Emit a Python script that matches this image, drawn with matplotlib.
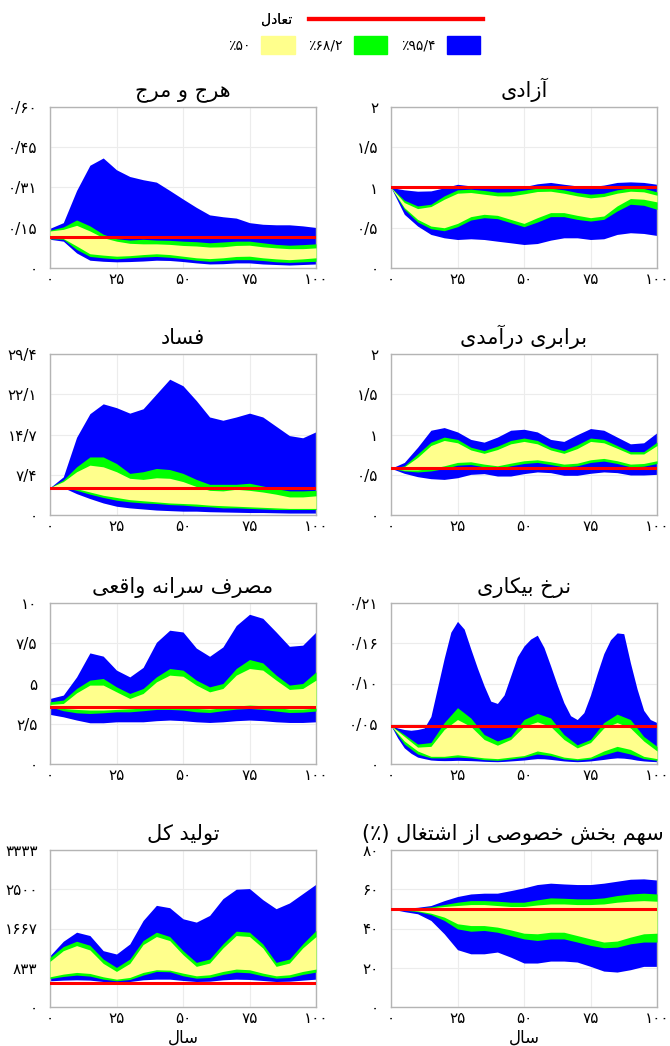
import matplotlib
matplotlib.use("Agg")
import matplotlib.pyplot as plt
from matplotlib.lines import Line2D
from matplotlib.patches import Patch

plt.rcParams['font.family'] = ['DejaVu Sans', 'Noto Sans']

# simulation years
years = [0, 5, 10, 15, 20, 25, 30, 35, 40, 45, 50, 55, 60, 65, 70, 75, 80, 85, 90, 95, 100]
years_fine = [0, 2.5, 5, 7.5, 10, 12.5, 15, 17.5, 20, 22.5, 25, 27.5, 30, 32.5, 35, 37.5, 40, 42.5, 45, 47.5, 50,
              52.5, 55, 57.5, 60, 62.5, 65, 67.5, 70, 72.5, 75, 77.5, 80, 82.5, 85, 87.5, 90, 92.5, 95, 97.5, 100]

# chaos
chaos_b_hi = [0.148, 0.169, 0.289, 0.383, 0.410, 0.366, 0.341, 0.329, 0.320, 0.289, 0.257, 0.226, 0.198, 0.191, 0.186, 0.169, 0.163, 0.161, 0.161, 0.157, 0.151]
chaos_g_hi = [0.141, 0.153, 0.179, 0.157, 0.126, 0.109, 0.104, 0.107, 0.104, 0.103, 0.100, 0.098, 0.094, 0.097, 0.100, 0.100, 0.094, 0.088, 0.085, 0.087, 0.090]
chaos_y_hi = [0.138, 0.144, 0.159, 0.138, 0.113, 0.100, 0.092, 0.090, 0.090, 0.088, 0.084, 0.082, 0.078, 0.079, 0.084, 0.085, 0.079, 0.075, 0.072, 0.072, 0.075]
chaos_y_lo = [0.113, 0.110, 0.082, 0.053, 0.048, 0.044, 0.046, 0.050, 0.053, 0.050, 0.044, 0.038, 0.035, 0.038, 0.043, 0.044, 0.038, 0.034, 0.031, 0.034, 0.038]
chaos_g_lo = [0.109, 0.107, 0.069, 0.043, 0.038, 0.034, 0.038, 0.041, 0.043, 0.040, 0.035, 0.029, 0.025, 0.028, 0.031, 0.031, 0.028, 0.023, 0.021, 0.023, 0.025]
chaos_b_lo = [0.107, 0.100, 0.056, 0.029, 0.025, 0.023, 0.024, 0.026, 0.029, 0.028, 0.024, 0.019, 0.015, 0.016, 0.019, 0.019, 0.015, 0.013, 0.011, 0.013, 0.015]
chaos_eq = 0.117

# freedom
freedom_b_hi = [1.0, 0.971, 0.954, 0.958, 0.996, 1.04, 1.02, 1.0, 0.988, 0.992, 1.01, 1.046, 1.063, 1.04, 1.02, 1.01, 1.03, 1.063, 1.07, 1.063, 1.04]
freedom_g_hi = [1.0, 0.842, 0.771, 0.792, 0.896, 0.971, 0.979, 0.963, 0.942, 0.946, 0.967, 0.992, 0.992, 0.971, 0.938, 0.917, 0.929, 0.971, 0.996, 0.988, 0.946]
freedom_y_hi = [1.0, 0.813, 0.738, 0.763, 0.854, 0.929, 0.938, 0.917, 0.896, 0.896, 0.921, 0.95, 0.954, 0.929, 0.896, 0.871, 0.888, 0.929, 0.954, 0.946, 0.904]
freedom_y_lo = [1.0, 0.75, 0.604, 0.521, 0.5, 0.554, 0.638, 0.667, 0.654, 0.604, 0.554, 0.625, 0.688, 0.688, 0.654, 0.625, 0.646, 0.771, 0.863, 0.854, 0.821]
freedom_g_lo = [1.0, 0.729, 0.571, 0.488, 0.463, 0.513, 0.596, 0.625, 0.613, 0.563, 0.513, 0.571, 0.638, 0.638, 0.604, 0.583, 0.604, 0.708, 0.792, 0.779, 0.729]
freedom_b_lo = [1.0, 0.667, 0.521, 0.417, 0.375, 0.354, 0.363, 0.354, 0.333, 0.313, 0.292, 0.304, 0.346, 0.375, 0.375, 0.354, 0.363, 0.417, 0.438, 0.429, 0.404]
freedom_eq = 1.0

# corruption
corrupt_b_hi = [5.0, 6.97, 14.2, 18.5, 20.3, 19.6, 18.6, 19.4, 22.1, 24.8, 23.6, 20.9, 17.9, 17.3, 17.9, 18.6, 17.9, 16.2, 14.5, 14.1, 15.2]
corrupt_g_hi = [5.0, 6.4, 8.8, 10.6, 10.6, 9.4, 7.6, 7.9, 8.5, 8.3, 7.6, 6.5, 5.6, 5.6, 5.6, 5.8, 5.3, 4.8, 4.4, 4.4, 4.5]
corrupt_y_hi = [5.0, 6.1, 7.9, 9.1, 8.8, 7.9, 6.7, 6.5, 6.8, 6.7, 6.1, 5.2, 4.5, 4.4, 4.7, 4.5, 4.2, 3.8, 3.3, 3.3, 3.5]
corrupt_y_lo = [5.0, 5.2, 4.8, 4.2, 3.6, 3.2, 2.8, 2.6, 2.4, 2.2, 2.1, 2.0, 1.8, 1.7, 1.6, 1.5, 1.4, 1.3, 1.2, 1.2, 1.2]
corrupt_g_lo = [5.0, 5.1, 4.5, 3.8, 3.2, 2.7, 2.4, 2.2, 2.1, 1.9, 1.8, 1.6, 1.5, 1.3, 1.3, 1.2, 1.1, 1.0, 1.0, 1.0, 1.0]
corrupt_b_lo = [5.0, 5.0, 3.9, 3.0, 2.2, 1.6, 1.3, 1.1, 0.9, 0.8, 0.7, 0.7, 0.6, 0.55, 0.5, 0.45, 0.45, 0.4, 0.35, 0.35, 0.35]
corrupt_eq = 5.0

# income equality
equal_b_hi = [0.58, 0.653, 0.842, 1.053, 1.086, 1.032, 0.939, 0.905, 0.968, 1.053, 1.065, 1.032, 0.939, 0.914, 0.998, 1.074, 1.053, 0.968, 0.884, 0.897, 1.023]
equal_g_hi = [0.58, 0.611, 0.758, 0.905, 0.968, 0.939, 0.842, 0.8, 0.855, 0.926, 0.956, 0.926, 0.842, 0.8, 0.872, 0.956, 0.939, 0.863, 0.787, 0.787, 0.905]
equal_y_hi = [0.58, 0.598, 0.716, 0.863, 0.926, 0.897, 0.808, 0.766, 0.813, 0.884, 0.914, 0.884, 0.808, 0.766, 0.825, 0.914, 0.897, 0.829, 0.758, 0.758, 0.863]
equal_y_lo = [0.58, 0.56, 0.56, 0.577, 0.611, 0.653, 0.661, 0.632, 0.611, 0.644, 0.674, 0.686, 0.661, 0.632, 0.644, 0.686, 0.703, 0.674, 0.632, 0.64, 0.674]
equal_g_lo = [0.58, 0.547, 0.535, 0.547, 0.577, 0.619, 0.627, 0.598, 0.577, 0.611, 0.64, 0.653, 0.627, 0.598, 0.611, 0.653, 0.67, 0.64, 0.598, 0.606, 0.64]
equal_b_lo = [0.58, 0.518, 0.476, 0.451, 0.442, 0.463, 0.505, 0.514, 0.484, 0.484, 0.514, 0.535, 0.526, 0.493, 0.493, 0.518, 0.535, 0.526, 0.497, 0.497, 0.505]
equal_eq = 0.58

# real consumption per capita
cons_b_hi = [4.07, 4.28, 5.41, 6.9, 6.7, 5.83, 5.41, 6.0, 7.56, 8.31, 8.2, 7.2, 6.69, 7.27, 8.6, 9.3, 9.05, 8.2, 7.31, 7.38, 8.2]
cons_g_hi = [3.86, 3.97, 4.69, 5.21, 5.31, 4.79, 4.38, 4.69, 5.41, 5.93, 5.83, 5.21, 4.79, 5.0, 5.93, 6.49, 6.28, 5.52, 4.9, 5.0, 5.72]
cons_y_hi = [3.7, 3.76, 4.42, 4.9, 4.9, 4.48, 4.07, 4.38, 5.1, 5.52, 5.45, 4.9, 4.48, 4.69, 5.52, 5.93, 5.83, 5.21, 4.63, 4.69, 5.21]
cons_y_lo = [3.66, 3.45, 3.39, 3.35, 3.35, 3.39, 3.43, 3.47, 3.51, 3.55, 3.51, 3.45, 3.41, 3.49, 3.6, 3.66, 3.62, 3.51, 3.41, 3.41, 3.47]
cons_g_lo = [3.55, 3.31, 3.18, 3.14, 3.18, 3.24, 3.24, 3.31, 3.39, 3.39, 3.35, 3.24, 3.2, 3.31, 3.41, 3.45, 3.39, 3.29, 3.2, 3.22, 3.29]
cons_b_lo = [3.08, 2.93, 2.73, 2.56, 2.56, 2.62, 2.62, 2.62, 2.69, 2.73, 2.69, 2.62, 2.58, 2.62, 2.69, 2.73, 2.69, 2.62, 2.58, 2.58, 2.62]
cons_eq = 3.55

# unemployment rate (outer band read every 2.5 years)
unemp_b_hi = [0.050, 0.047, 0.045, 0.044, 0.045, 0.047, 0.062, 0.100, 0.138, 0.172, 0.186, 0.176, 0.150, 0.125, 0.102, 0.082, 0.079, 0.090, 0.115, 0.140, 0.154,
              0.163, 0.168, 0.152, 0.128, 0.103, 0.080, 0.063, 0.058, 0.067, 0.090, 0.118, 0.144, 0.162, 0.171, 0.170, 0.132, 0.098, 0.070, 0.058, 0.054]
unemp_b_lo = [0.050, 0.034, 0.021, 0.014, 0.009, 0.007, 0.0052, 0.0046, 0.0044, 0.0045, 0.0048, 0.0046, 0.0044, 0.004, 0.0035, 0.0032, 0.003, 0.0034, 0.004, 0.0046, 0.0052,
              0.0062, 0.007, 0.0068, 0.006, 0.005, 0.004, 0.0034, 0.003, 0.0034, 0.004, 0.005, 0.006, 0.0072, 0.008, 0.0076, 0.0066, 0.005, 0.004, 0.0034, 0.003]
unemp_g_hi = [0.050, 0.0385, 0.026, 0.028, 0.054, 0.0735, 0.060, 0.0385, 0.030, 0.036, 0.058, 0.066, 0.060, 0.0385, 0.025, 0.032, 0.054, 0.065, 0.058, 0.036, 0.023]
unemp_y_hi = [0.050, 0.036, 0.022, 0.023, 0.045, 0.058, 0.049, 0.032, 0.0245, 0.032, 0.049, 0.055, 0.049, 0.032, 0.021, 0.028, 0.047, 0.054, 0.047, 0.030, 0.017]
unemp_y_lo = [0.050, 0.030, 0.017, 0.010, 0.010, 0.012, 0.010, 0.008, 0.007, 0.009, 0.011, 0.017, 0.014, 0.009, 0.007, 0.009, 0.017, 0.023, 0.019, 0.010, 0.007]
unemp_g_lo = [0.050, 0.026, 0.013, 0.008, 0.008, 0.009, 0.008, 0.0057, 0.0048, 0.0066, 0.009, 0.013, 0.011, 0.0066, 0.0052, 0.0066, 0.012, 0.017, 0.013, 0.007, 0.0048]
unemp_eq = 0.05

# total output
output_b_hi = [1090, 1396, 1588, 1517, 1196, 1125, 1339, 1837, 2158, 2108, 1873, 1802, 1944, 2300, 2500, 2514, 2279, 2087, 2208, 2407, 2607]
output_g_hi = [1054, 1282, 1396, 1310, 1018, 840, 1018, 1410, 1588, 1496, 1196, 947, 1018, 1339, 1610, 1588, 1339, 947, 1018, 1339, 1624]
output_y_hi = [969, 1196, 1303, 1211, 926, 755, 926, 1325, 1496, 1410, 1111, 862, 933, 1253, 1517, 1496, 1253, 862, 933, 1253, 1496]
output_y_lo = [641, 698, 734, 712, 641, 591, 627, 734, 791, 783, 719, 662, 684, 755, 805, 791, 719, 662, 684, 755, 805]
output_g_lo = [605, 648, 677, 655, 591, 556, 584, 677, 755, 748, 662, 612, 627, 691, 741, 726, 662, 612, 627, 691, 741]
output_b_lo = [556, 570, 577, 570, 541, 527, 541, 577, 591, 591, 563, 541, 548, 577, 591, 584, 563, 541, 548, 570, 591]
output_eq = 520

# private sector share of employment
priv_b_hi = [50, 50.3, 50.8, 51.7, 54.2, 56.3, 57.6, 58.0, 58.0, 59.3, 60.7, 62.4, 63.1, 62.7, 62.4, 62.4, 63.1, 64.1, 65.1, 65.3, 64.7]
priv_g_hi = [50, 50.2, 50.5, 51.0, 52.2, 53.4, 54.2, 54.2, 53.9, 53.4, 53.4, 54.6, 55.6, 55.4, 55.1, 55.1, 55.6, 56.8, 57.6, 58.0, 57.6]
priv_y_hi = [50, 50.1, 50.2, 50.5, 51.2, 51.7, 52.2, 52.2, 51.7, 51.2, 51.2, 52.0, 52.5, 52.5, 52.2, 52.2, 52.5, 53.4, 53.9, 54.2, 53.9]
priv_y_lo = [50, 49.6, 49.0, 47.8, 45.8, 42.4, 41.5, 41.5, 40.7, 39.3, 37.6, 37.3, 38.1, 38.1, 36.4, 34.7, 33.1, 33.6, 35.6, 37.3, 37.6]
priv_g_lo = [50, 49.3, 48.6, 47.1, 44.1, 39.8, 38.6, 39.0, 38.1, 36.4, 34.7, 33.9, 34.7, 34.7, 33.1, 31.4, 30.2, 30.5, 32.2, 33.1, 33.1]
priv_b_lo = [50, 48.6, 47.5, 44.1, 37.3, 29.2, 27.1, 27.1, 28.0, 25.4, 22.4, 22.4, 23.4, 23.4, 22.9, 20.7, 18.3, 17.8, 19.0, 20.7, 20.7]
priv_eq = 50

x_ticks = [0, 25, 50, 75, 100]
x_labels = ['۰', '۲۵', '۵۰', '۷۵', '۱۰۰']

chaos_ticks = [0, 0.15, 0.30, 0.45, 0.60]
chaos_labels = ['۰', '۰/۱۵', '۰/۳۱', '۰/۴۵', '۰/۶۰']
unit2_ticks = [0, 0.5, 1.0, 1.5, 2.0]
unit2_labels = ['۰', '۰/۵', '۱', '۱/۵', '۲']
corrupt_ticks = [0, 7.35, 14.7, 22.05, 29.4]
corrupt_labels = ['۰', '۷/۴', '۱۴/۷', '۲۲/۱', '۲۹/۴']
cons_ticks = [0, 2.5, 5, 7.5, 10]
cons_labels = ['۰', '۲/۵', '۵', '۷/۵', '۱۰']
unemp_ticks = [0, 0.0525, 0.105, 0.1575, 0.21]
unemp_labels = ['۰', '۰/۰۵', '۰/۱۰', '۰/۱۶', '۰/۲۱']
output_ticks = [0, 833.25, 1666.5, 2499.75, 3333]
output_labels = ['۰', '۸۳۳', '۱۶۶۷', '۲۵۰۰', '۳۳۳۳']
priv_ticks = [0, 20, 40, 60, 80]
priv_labels = ['۰', '۲۰', '۴۰', '۶۰', '۸۰']

# arabic letter forms: isolated, final, initial, medial (right-joining letters have two)
FORMS = {
    'ا': ('\uFE8D', '\uFE8E'), 'آ': ('\uFE81', '\uFE82'),
    'د': ('\uFEA9', '\uFEAA'), 'ر': ('\uFEAD', '\uFEAE'),
    'ز': ('\uFEAF', '\uFEB0'), 'و': ('\uFEED', '\uFEEE'),
    'ب': ('\uFE8F', '\uFE90', '\uFE91', '\uFE92'),
    'ت': ('\uFE95', '\uFE96', '\uFE97', '\uFE98'),
    'ج': ('\uFE9D', '\uFE9E', '\uFE9F', '\uFEA0'),
    'خ': ('\uFEA5', '\uFEA6', '\uFEA7', '\uFEA8'),
    'س': ('\uFEB1', '\uFEB2', '\uFEB3', '\uFEB4'),
    'ش': ('\uFEB5', '\uFEB6', '\uFEB7', '\uFEB8'),
    'ص': ('\uFEB9', '\uFEBA', '\uFEBB', '\uFEBC'),
    'ع': ('\uFEC9', '\uFECA', '\uFECB', '\uFECC'),
    'غ': ('\uFECD', '\uFECE', '\uFECF', '\uFED0'),
    'ف': ('\uFED1', '\uFED2', '\uFED3', '\uFED4'),
    'ق': ('\uFED5', '\uFED6', '\uFED7', '\uFED8'),
    'ل': ('\uFEDD', '\uFEDE', '\uFEDF', '\uFEE0'),
    'م': ('\uFEE1', '\uFEE2', '\uFEE3', '\uFEE4'),
    'ن': ('\uFEE5', '\uFEE6', '\uFEE7', '\uFEE8'),
    'ه': ('\uFEE9', '\uFEEA', '\uFEEB', '\uFEEC'),
    'ی': ('\uFBFC', '\uFBFD', '\uFBFE', '\uFBFF'),
    'ک': ('\uFB8E', '\uFB8F', '\uFB90', '\uFB91'),
}
MIRROR = {'(': ')', ')': '('}


def fa(text):
    """Shape Persian letters and return them in visual (left-to-right) order."""
    out = []
    for i, c in enumerate(text):
        if c not in FORMS:
            out.append(c)
            continue
        prev = text[i - 1] if i > 0 else ''
        nxt = text[i + 1] if i + 1 < len(text) else ''
        join_prev = prev in FORMS and len(FORMS[prev]) == 4
        join_next = len(FORMS[c]) == 4 and nxt in FORMS
        f = FORMS[c]
        if join_prev and join_next:
            out.append(f[3])
        elif join_prev:
            out.append(f[1])
        elif join_next:
            out.append(f[2])
        else:
            out.append(f[0])
    return ''.join(MIRROR.get(c, c) for c in reversed(out))


# title, outer band x, outer lo/hi, inner bands x, green lo, yellow lo, yellow hi, green hi, equilibrium, ticks, labels
panels = [
    ('هرج و مرج', years, chaos_b_lo, chaos_b_hi, years, chaos_g_lo, chaos_y_lo, chaos_y_hi, chaos_g_hi, chaos_eq, chaos_ticks, chaos_labels),
    ('آزادی', years, freedom_b_lo, freedom_b_hi, years, freedom_g_lo, freedom_y_lo, freedom_y_hi, freedom_g_hi, freedom_eq, unit2_ticks, unit2_labels),
    ('فساد', years, corrupt_b_lo, corrupt_b_hi, years, corrupt_g_lo, corrupt_y_lo, corrupt_y_hi, corrupt_g_hi, corrupt_eq, corrupt_ticks, corrupt_labels),
    ('برابری درآمدی', years, equal_b_lo, equal_b_hi, years, equal_g_lo, equal_y_lo, equal_y_hi, equal_g_hi, equal_eq, unit2_ticks, unit2_labels),
    ('مصرف سرانه واقعی', years, cons_b_lo, cons_b_hi, years, cons_g_lo, cons_y_lo, cons_y_hi, cons_g_hi, cons_eq, cons_ticks, cons_labels),
    ('نرخ بیکاری', years_fine, unemp_b_lo, unemp_b_hi, years, unemp_g_lo, unemp_y_lo, unemp_y_hi, unemp_g_hi, unemp_eq, unemp_ticks, unemp_labels),
    ('تولید کل', years, output_b_lo, output_b_hi, years, output_g_lo, output_y_lo, output_y_hi, output_g_hi, output_eq, output_ticks, output_labels),
    ('سهم بخش خصوصی از اشتغال (٪)', years, priv_b_lo, priv_b_hi, years, priv_g_lo, priv_y_lo, priv_y_hi, priv_g_hi, priv_eq, priv_ticks, priv_labels),
]

BLUE = '#0000ff'
GREEN = '#00ff00'
YELLOW = '#ffff8c'
RED = '#ff0000'

fig = plt.figure(figsize=(6.7, 10.46), dpi=100)

col_left = [50 / 670, 391 / 670]
col_width = 266 / 670
row_bottom = [1 - 268 / 1046, 1 - 515 / 1046, 1 - 764 / 1046, 1 - 1007 / 1046]
row_height = [161 / 1046, 161 / 1046, 161 / 1046, 157 / 1046]

for k, (title, xb, b_lo, b_hi, xi, g_lo, y_lo, y_hi, g_hi, eq, yt, yl) in enumerate(panels):
    r, c = divmod(k, 2)
    ax = fig.add_axes([col_left[c], row_bottom[r], col_width, row_height[r]])
    ax.fill_between(xb, b_lo, b_hi, color=BLUE, lw=0, zorder=2)
    ax.fill_between(xi, g_lo, g_hi, color=GREEN, lw=0, zorder=3)
    ax.fill_between(xi, y_lo, y_hi, color=YELLOW, lw=0, zorder=4)
    ax.axhline(eq, color=RED, lw=2.2, zorder=5)
    ax.set_xlim(0, 100)
    ax.set_ylim(yt[0], yt[-1])
    ax.set_xticks(x_ticks)
    ax.set_xticklabels(x_labels)
    ax.set_yticks(yt)
    ax.set_yticklabels(yl)
    ax.grid(True, color='#ececec', lw=0.8, zorder=0)
    ax.set_axisbelow(True)
    ax.tick_params(length=0, labelsize=11)
    ax.tick_params(axis='x', pad=3)
    ax.tick_params(axis='y', pad=9)
    for s in ax.spines.values():
        s.set_color('#b4b4b4')
        s.set_linewidth(1.0)
    # the long title sits a little left of centre so it stays on the page
    ax.set_title(fa(title), fontsize=15, pad=7, x=0.46 if len(title) > 20 else 0.5)
    if r == 3:
        ax.set_xlabel(fa('سال'), fontsize=12)
        ax.xaxis.set_label_coords(0.5, -0.14)

# legend rows at the top
leg1 = fig.legend(handles=[Line2D([], [], color=RED, lw=3)], labels=[fa('تعادل')],
                  loc='center', bbox_to_anchor=(372 / 670, 1 - 20 / 1046),
                  frameon=False, markerfirst=False, handlelength=12.5,
                  fontsize=10, handletextpad=1.2)
fig.add_artist(leg1)
fig.legend(handles=[Patch(color=YELLOW), Patch(color=GREEN), Patch(color=BLUE)],
           labels=['٪۵۰', '٪۶۸/۲', '٪۹۵/۴'],
           loc='center', bbox_to_anchor=(354 / 670, 1 - 45 / 1046), ncol=3,
           frameon=False, markerfirst=False, handlelength=2.4, handleheight=1.6,
           fontsize=10, handletextpad=0.8, columnspacing=1.0)

fig.savefig('out.png', dpi=100)
